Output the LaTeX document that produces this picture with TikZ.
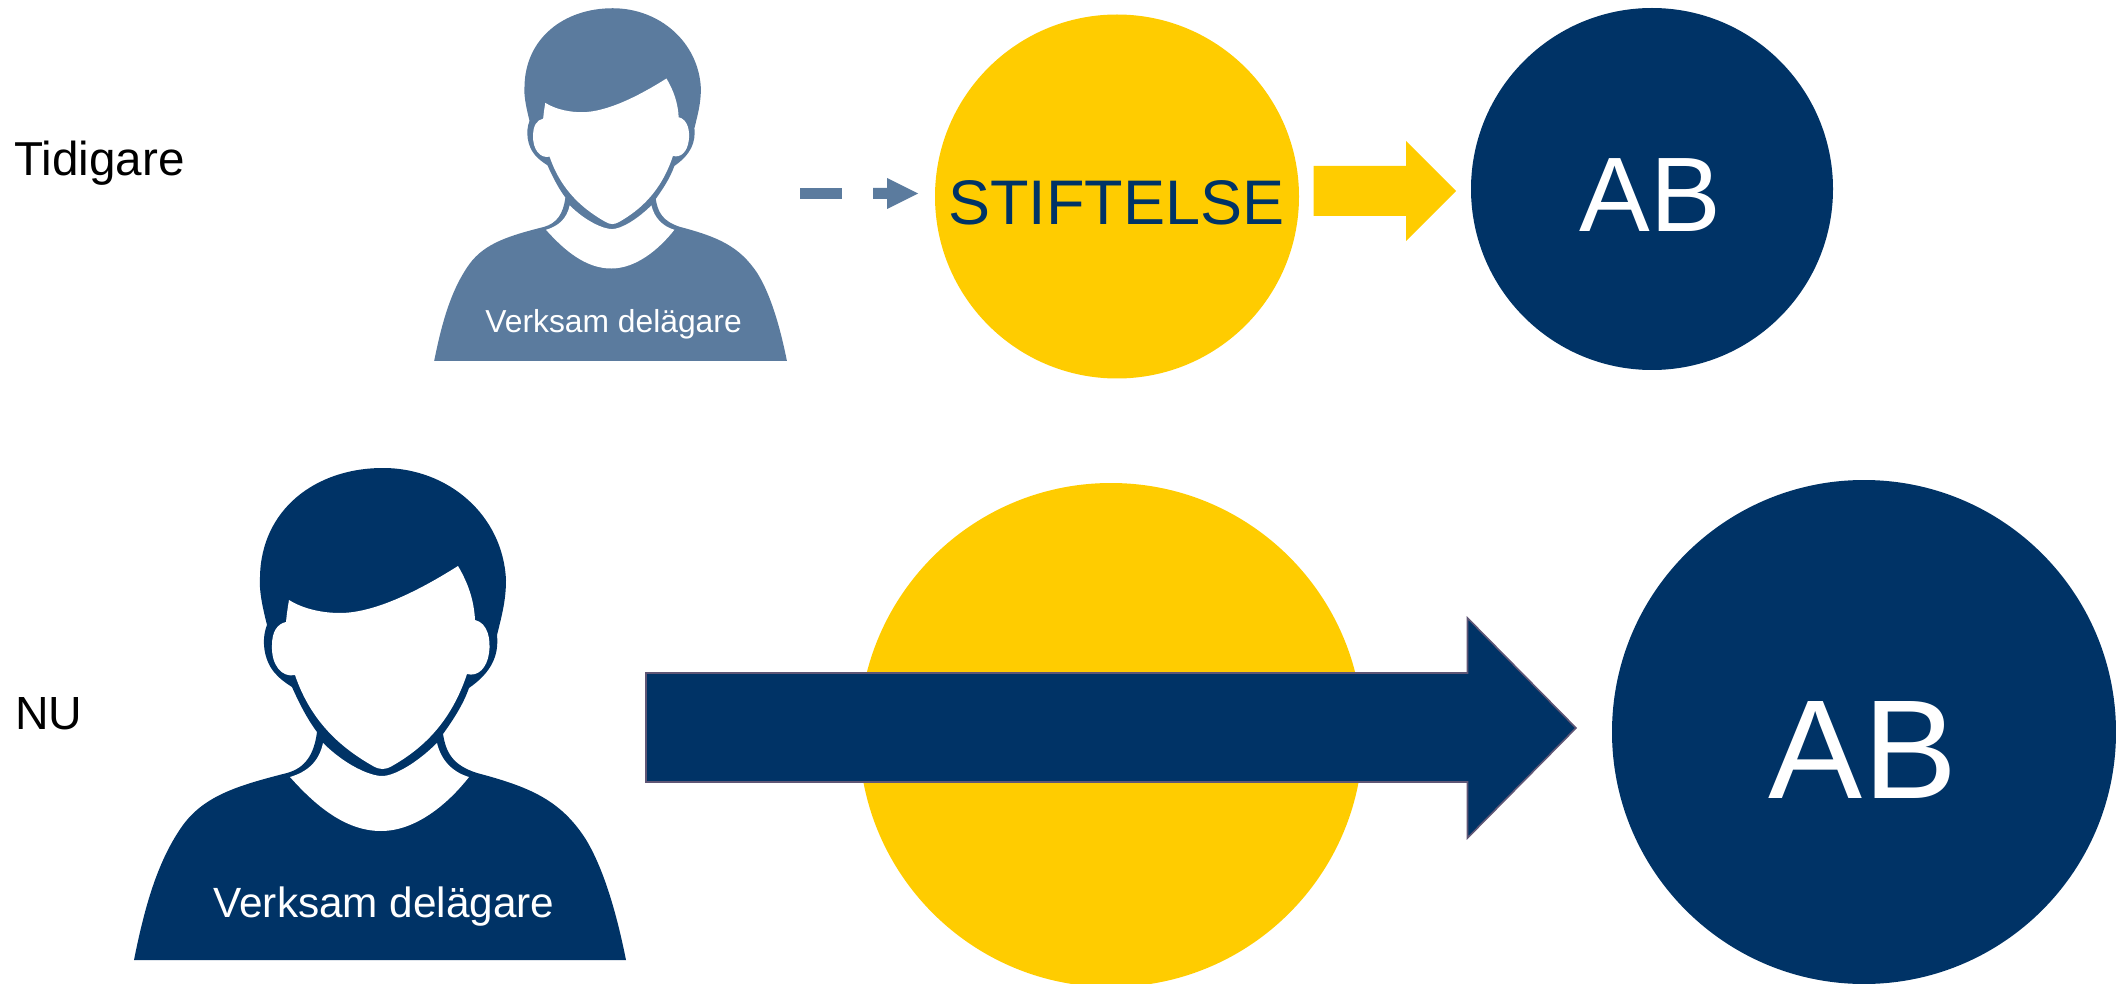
\documentclass[tikz,border=0pt]{standalone}
\usepackage{fontspec}
\setmainfont{Liberation Sans}
\definecolor{navy}{HTML}{003366}
\definecolor{steel}{HTML}{5B7B9E}
\definecolor{gold}{HTML}{FFCC00}
\definecolor{edge}{HTML}{5F5675}
\tikzset{
  disc/.style={circle,inner sep=0pt,minimum size=#1*0.5pt},
  lbl/.style={inner sep=0pt,anchor=base,font=\fontsize{#1}{#1}\selectfont},
  lblleft/.style={inner sep=0pt,anchor=base west,font=\fontsize{#1}{#1}\selectfont},
  pics/person/.style={code={
    \begin{scope}[shift={(-383,-960)}]
    \fill[#1] (134,960) .. controls (145,905) and (158,860) .. (183,825)
      .. controls (205,795) and (240,785) .. (287,773)
      .. controls (305,768) and (314,755) .. (317,732)
      .. controls (308,720) and (300,705) .. (292,687)
      .. controls (284,682) and (278,677) .. (274,672)
      .. controls (264,660) and (261,640) .. (267,625)
      .. controls (262,605) and (259,590) .. (260,577)
      .. controls (261,510) and (315,468) .. (383,468)
      .. controls (448,468) and (503,515) .. (506,580)
      .. controls (506,600) and (502,615) .. (497,635)
      .. controls (499,655) and (492,672) .. (469,688)
      .. controls (463,705) and (453,720) .. (443,734)
      .. controls (446,752) and (452,765) .. (477,773)
      .. controls (530,787) and (560,800) .. (585,838)
      .. controls (605,870) and (618,920) .. (626,960) -- cycle;
    \fill[white] (289,600) .. controls (305,610) and (325,613) .. (340,613)
      .. controls (375,613) and (420,590) .. (458,566)
      .. controls (468,583) and (474,600) .. (475,620)
      .. controls (488,623) and (491,640) .. (489,653)
      .. controls (487,668) and (478,677) .. (467,674)
      .. controls (450,725) and (420,750) .. (392,766)
      .. controls (385,770) and (380,770) .. (373,766)
      .. controls (345,750) and (312,725) .. (295,675)
      .. controls (282,678) and (271,665) .. (272,645)
      .. controls (272,632) and (277,624) .. (286,622)
      .. controls (287,612) and (288,606) .. (289,600) -- cycle;
    \fill[white] (323,743) .. controls (345,765) and (370,776) .. (382,776)
      .. controls (395,776) and (418,762) .. (437,743)
      .. controls (441,760) and (452,772) .. (469,777)
      .. controls (447,805) and (415,831) .. (381,831)
      .. controls (345,831) and (315,805) .. (290,777)
      .. controls (307,772) and (319,762) .. (323,743) -- cycle;
    \end{scope}
  }},
}
\begin{document}
\begin{tikzpicture}[x=0.5pt,y=-0.5pt]
\useasboundingbox (0,0) rectangle (2116,984);
\begin{scope}
\clip (0,0) rectangle (2116,984);
\node[disc=364,fill=gold] (stift) at (1117,196.5) {};
\node[disc=362,fill=navy] (abtop) at (1652,189) {};
\node[disc=504,fill=gold] (stiftb) at (1111,735) {};
\node[disc=504,fill=navy] (abbot) at (1864,732) {};
\end{scope}
\pic[scale=0.717] (ptop) at (612.7,361) {person=steel};
\pic (pbot) at (383,960) {person=navy};
\node[lbl=15.9,text=white] (vtop) at (613.6,333) {Verksam delägare};
\node[lbl=21.15,text=white] (vbot) at (384,917) {Verksam delägare};
\node[lblleft=23.8] (tid) at (14,176) {Tidigare};
\node[lblleft=23.25] (nu) at (15,729) {NU};
\node[lbl=31.5,text=navy] (stext) at (1116.5,225) {STIFTELSE};
\node[lbl=53,text=white] (abt) at (1650.5,232) {AB};
\node[lbl=70.5,text=white] (abb) at (1863,798) {AB};
% dashed small arrow
\fill[steel] (800,188) rectangle (842,199);
\fill[steel] (873,188) -- (887,188) -- (887,178) -- (918,193.5) -- (887,209) -- (887,199) -- (873,199) -- cycle;
% yellow block arrow
\fill[gold] (1313.5,166) -- (1406,166) -- (1406,141) -- (1456,191) -- (1406,241) -- (1406,216) -- (1313.5,216) -- cycle;
% big block arrow
\filldraw[fill=navy,draw=edge,line width=0.8pt] (646,673) -- (1467.5,673) -- (1467.5,618) -- (1576,728) -- (1467.5,838) -- (1467.5,782) -- (646,782) -- cycle;
\end{tikzpicture}
\end{document}
